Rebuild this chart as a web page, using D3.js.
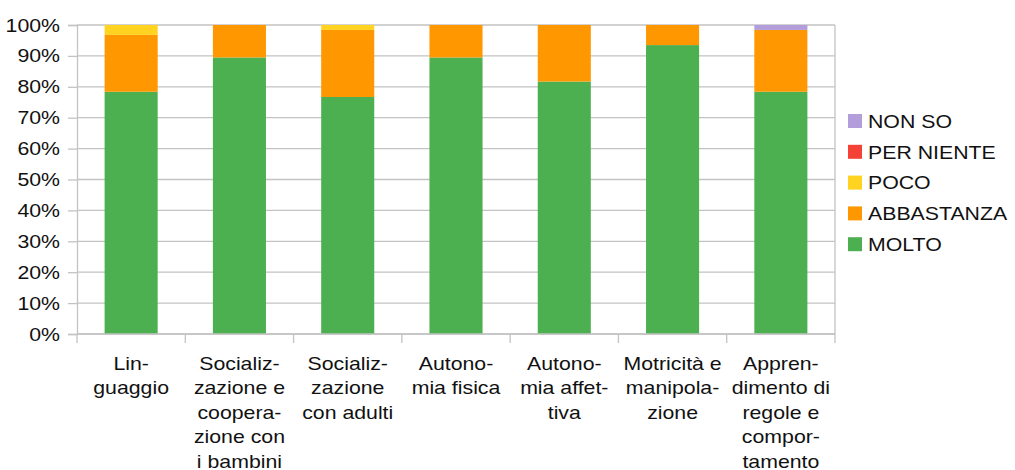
<!DOCTYPE html>
<html lang="it">
<head>
  <meta charset="UTF-8">
  <title>Chart</title>
  <style>
    body{margin: 0; background: #fff;}
    svg{display: block; font-family: "Liberation Sans", Arial, sans-serif;}
  </style>
</head>
<body>
  <div id="chart"></div>
  <script src="https://d3js.org/d3.v7.min.js"></script>
  <script>
  // DATA
  const categories = ["Linguaggio", "Socializzazione e cooperazione con i bambini", "Socializzazione con adulti",
    "Autonomia fisica", "Autonomia affettiva", "Motricità e manipolazione", "Apprendimento di regole e comportamento"];
  const categoryLines = [
    ["Lin-", "guaggio"],
    ["Socializ-", "zazione e", "coopera-", "zione con", "i bambini"],
    ["Socializ-", "zazione", "con adulti"],
    ["Autono-", "mia fisica"],
    ["Autono-", "mia affet-", "tiva"],
    ["Motricità e", "manipola-", "zione"],
    ["Appren-", "dimento di", "regole e", "compor-", "tamento"]
  ];
  const molto      = [78.4, 89.5, 76.7, 89.5, 81.7, 93.5, 78.4];
  const abbastanza = [18.4, 10.5, 21.7, 10.5, 18.3, 6.5, 20.0];
  const poco       = [3.2, 0, 1.6, 0, 0, 0, 0];
  const perNiente  = [0, 0, 0, 0, 0, 0, 0];
  const nonSo      = [0, 0, 0, 0, 0, 0, 1.6];
  const seriesNames = ["MOLTO", "ABBASTANZA", "POCO", "PER NIENTE", "NON SO"];
  const seriesColors = ["#4caf50", "#ff9800", "#ffd320", "#f44336", "#b39ddb"];
  const yTicks = [0, 10, 20, 30, 40, 50, 60, 70, 80, 90, 100];

  // CONSTANTS
  const width = 1015, height = 470;
  const plotLeft = 77, plotRight = 835, plotTop = 25, plotBottom = 334;
  const grid = "#c3c3c3";
  const textColor = "#111";
  const fontSize = "19px";
  const stretchX = 1.12; // the glyphs in the picture are a bit wider than they are tall

  const rows = categories.map((c, i) => ({
    cat: c, MOLTO: molto[i], ABBASTANZA: abbastanza[i], POCO: poco[i],
    "PER NIENTE": perNiente[i], "NON SO": nonSo[i]
  }));
  const stacked = d3.stack().keys(seriesNames)(rows);

  // SCALES
  const xSlots = d3.scaleBand().domain(categories).range([plotLeft, plotRight]).padding(0);
  const x = d3.scaleBand().domain(categories).range([plotLeft, plotRight]).paddingInner(0.51).paddingOuter(0.255);
  const y = d3.scaleLinear().domain([0, 100]).range([plotBottom, plotTop]);
  const color = d3.scaleOrdinal().domain(seriesNames).range(seriesColors);

  const svg = d3.select("#chart").append("svg")
    .attr("width", width)
    .attr("height", height);

  // GRID
  svg.append("g").selectAll("line")
    .data(yTicks)
    .join("line")
    .attr("x1", plotLeft).attr("x2", plotRight)
    .attr("y1", d => y(d)).attr("y2", d => y(d))
    .attr("stroke", grid).attr("stroke-width", 1.3);
  svg.append("line")
    .attr("x1", plotRight).attr("x2", plotRight).attr("y1", plotTop).attr("y2", plotBottom)
    .attr("stroke", grid).attr("stroke-width", 1.3);

  // BARS
  svg.append("g").selectAll("g")
    .data(stacked)
    .join("g")
    .attr("fill", d => color(d.key))
    .selectAll("rect")
    .data(d => d)
    .join("rect")
    .attr("x", d => x(d.data.cat))
    .attr("width", x.bandwidth())
    .attr("y", d => y(d[1]))
    .attr("height", d => y(d[0]) - y(d[1]));

  // Y AXIS
  const yAxis = svg.append("g")
    .attr("transform", `translate(${plotLeft},0)`)
    .call(d3.axisLeft(y).tickValues(yTicks).tickFormat(d => d + "%").tickSize(9).tickPadding(8));
  yAxis.attr("font-family", null).attr("font-size", null);
  yAxis.selectAll("path, line").attr("stroke", grid).attr("stroke-width", 1.3);
  yAxis.selectAll("text").attr("fill", textColor).style("font-size", fontSize);

  // X AXIS
  const xAxis = svg.append("g").attr("transform", `translate(0,${plotBottom})`);
  xAxis.append("line").attr("x1", plotLeft).attr("x2", plotRight).attr("stroke", grid).attr("stroke-width", 1.3);
  xAxis.selectAll(".tick")
    .data(categories.concat(["end"]))
    .join("line")
    .attr("class", "tick")
    .attr("x1", d => d === "end" ? plotRight : xSlots(d))
    .attr("x2", d => d === "end" ? plotRight : xSlots(d))
    .attr("y1", 0).attr("y2", 9)
    .attr("stroke", grid).attr("stroke-width", 1.3);
  xAxis.selectAll(".xlabel")
    .data(categories)
    .join("g")
    .attr("class", "xlabel")
    .attr("transform", d => `translate(${xSlots(d) + xSlots.bandwidth() / 2},36)`)
    .selectAll("text")
    .data((d, i) => categoryLines[i])
    .join("text")
    .attr("text-anchor", "middle")
    .attr("fill", textColor)
    .style("font-size", fontSize)
    .attr("y", (d, i) => i * 24.4)
    .text(d => d);

  // LEGEND
  const legend = svg.append("g").attr("transform", "translate(848,0)");
  const legendItems = legend.selectAll("g")
    .data(seriesNames.slice().reverse())
    .join("g")
    .attr("transform", (d, i) => `translate(0,${121 + i * 30.8})`);
  legendItems.append("rect")
    .attr("x", 0).attr("y", -7).attr("width", 14).attr("height", 14)
    .attr("fill", d => color(d));
  legendItems.append("text")
    .attr("x", 20).attr("dy", "0.36em")
    .attr("fill", textColor)
    .style("font-size", fontSize)
    .text(d => d);

  // widen all texts a little
  svg.selectAll("text").each(function() {
    const len = this.getComputedTextLength();
    d3.select(this).attr("textLength", len * stretchX).attr("lengthAdjust", "spacingAndGlyphs");
  });
  </script>
</body>
</html>
